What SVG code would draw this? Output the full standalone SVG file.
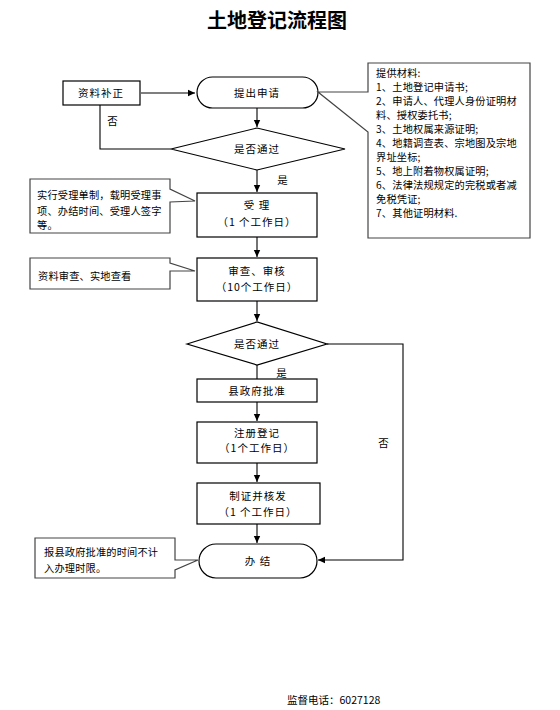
<svg xmlns="http://www.w3.org/2000/svg" width="560" height="710" viewBox="0 0 560 710">
<style>
text{font-family:"Noto Sans CJK SC","Noto Sans",sans-serif;fill:#000;}
.t{font-size:10.5px;text-anchor:middle;letter-spacing:1px;}
.c{font-size:10.2px;letter-spacing:0.2px;}
.box{fill:#fff;stroke:#000;stroke-width:1.2;}
.call{fill:#fff;stroke:#444;stroke-width:1.2;}
.ln{fill:none;stroke:#000;stroke-width:1.1;}
</style>
<defs>
<marker id="ah" markerWidth="8" markerHeight="8" refX="7" refY="4" orient="auto" markerUnits="userSpaceOnUse">
<path d="M0,0.8 L7,4 L0,7.2 Z" fill="#000"/>
</marker>
</defs>
<rect width="560" height="710" fill="#fff"/>
<text x="277" y="28" style="font-size:20px;font-weight:bold;text-anchor:middle;font-family:'Noto Sans CJK SC',serif;">土地登记流程图</text>

<g id="connectors">
<line class="ln" x1="141" y1="93" x2="195" y2="93" marker-end="url(#ah)"/>
<line class="ln" x1="257" y1="108" x2="257" y2="127" marker-end="url(#ah)"/>
<polyline class="ln" points="171,149 100,149 100,105"/>
<line class="ln" x1="257" y1="170" x2="257" y2="192" marker-end="url(#ah)"/>
<line class="ln" x1="257" y1="237" x2="257" y2="257" marker-end="url(#ah)"/>
<line class="ln" x1="257" y1="301" x2="257" y2="321" marker-end="url(#ah)"/>
<line class="ln" x1="257" y1="365" x2="257" y2="379"/>
<line class="ln" x1="257" y1="402" x2="257" y2="421" marker-end="url(#ah)"/>
<line class="ln" x1="257" y1="463" x2="257" y2="482" marker-end="url(#ah)"/>
<line class="ln" x1="257" y1="524" x2="257" y2="543" marker-end="url(#ah)"/>
<polyline class="ln" points="327,344 403,344 403,560 318,560" marker-end="url(#ah)"/>
<text x="113" y="125" class="t">否</text>
<text x="283" y="184" class="t">是</text>
<text x="282" y="377" class="t">是</text>
<text x="384" y="447" class="t">否</text>
</g>

<g id="n-buzheng">
<rect class="box" x="63" y="81" width="77" height="24"/>
<text x="101" y="97" class="t">资料补正</text>
</g>
<g id="n-shenqing">
<rect class="box" x="197" y="77" width="121" height="31" rx="15.5"/>
<text x="257" y="96.5" class="t">提出申请</text>
</g>
<g id="n-cailiao">
<path class="call" d="M368,63 H530 V238 H368 V132 L318,92 H368 Z"/>
<text class="c" x="376" y="77">提供材料:</text>
<text class="c" x="376" y="91">1、土地登记申请书;</text>
<text class="c" x="376" y="105">2、申请人、代理人身份证明材</text>
<text class="c" x="376" y="119">料、授权委托书;</text>
<text class="c" x="376" y="133">3、土地权属来源证明;</text>
<text class="c" x="376" y="147">4、地籍调查表、宗地图及宗地</text>
<text class="c" x="376" y="161">界址坐标;</text>
<text class="c" x="376" y="175">5、地上附着物权属证明;</text>
<text class="c" x="376" y="189">6、法律法规规定的完税或者减</text>
<text class="c" x="376" y="203">免税凭证;</text>
<text class="c" x="376" y="217">7、其他证明材料.</text>
</g>
<g id="n-tongguo1">
<polygon class="box" points="171,149 257,128 345,149 257,170"/>
<text x="257" y="153" class="t">是否通过</text>
</g>
<g id="n-shouli">
<rect class="box" x="197" y="193" width="120" height="44"/>
<text x="257" y="209" class="t">受  理</text>
<text x="257" y="226" class="t">（1 个工作日）</text>
</g>
<g id="n-note1">
<path class="call" d="M30,179 H170 V189 L195,201 L170,202 V233 H30 Z"/>
<text class="c" x="37" y="199">实行受理单制，载明受理事</text>
<text class="c" x="37" y="215">项、办结时间、受理人签字</text>
<text class="c" x="37" y="229">等。</text>
</g>
<g id="n-shencha">
<rect class="box" x="197" y="258" width="120" height="43"/>
<text x="257" y="275" class="t">审查、审核</text>
<text x="257" y="291" class="t">（10个工作日）</text>
</g>
<g id="n-note2">
<path class="call" d="M30,258 H170 V263 L195,271 L170,271 V289 H30 Z"/>
<text class="c" x="38" y="280">资料审查、实地查看</text>
</g>
<g id="n-tongguo2">
<polygon class="box" points="187,344 257,322 327,344 257,365"/>
<text x="257" y="348" class="t">是否通过</text>
</g>
<g id="n-pizhun">
<rect class="box" x="197" y="379" width="120" height="23"/>
<text x="257" y="395" class="t">县政府批准</text>
</g>
<g id="n-zhuce">
<rect class="box" x="197" y="422" width="120" height="41"/>
<text x="257" y="437" class="t">注册登记</text>
<text x="257" y="452" class="t">（1个工作日）</text>
</g>
<g id="n-zhizheng">
<rect class="box" x="197" y="483" width="123" height="41"/>
<text x="258" y="500" class="t">制证并核发</text>
<text x="258" y="516" class="t">（1 个工作日）</text>
</g>
<g id="n-banjie">
<rect class="box" x="199" y="544" width="118" height="34" rx="17"/>
<text x="258" y="565" class="t">办  结</text>
</g>
<g id="n-note3">
<path class="call" d="M35,538 H175 V560 L198,560 L175,570 V578 H35 Z"/>
<text class="c" x="44" y="556">报县政府批准的时间不计</text>
<text class="c" x="44" y="572">入办理时限。</text>
</g>
<text x="287" y="704" style="font-size:10.5px;">监督电话：6027128</text>
</svg>
